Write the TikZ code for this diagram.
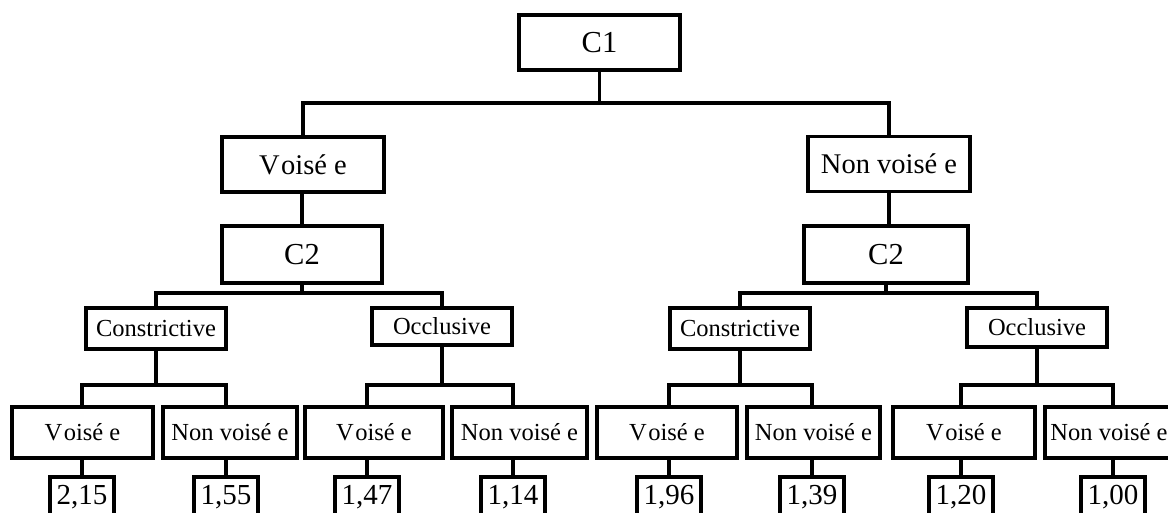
\documentclass[tikz,border=0pt]{standalone}
\usepackage{fontspec}
\setmainfont{Liberation Serif}
\begin{document}
\begin{tikzpicture}[x=1pt,y=-1pt,
  box/.style={draw=black, line width=3.3pt, fill=white, inner sep=0pt, anchor=center},
  bigbox/.style={box, font=\fontsize{28.5}{32}\selectfont, minimum height=55pt},
  midbox/.style={box, font=\fontsize{24.5}{28}\selectfont, minimum height=41pt, minimum width=140pt},
  leafbox/.style={box, font=\fontsize{24.5}{29}\selectfont, minimum height=51pt},
  numbox/.style={box, font=\fontsize{29}{32}\selectfont, minimum height=40pt, minimum width=64pt},
  link/.style={line width=3.3pt}
]
\useasboundingbox (0,0) rectangle (1168,513);

% bus levels
\coordinate (b1) at (0,103);
\coordinate (b2) at (0,293);
\coordinate (b3) at (0,385);

% level 0
\node[bigbox, minimum width=161pt, font=\fontsize{30.5}{34}\selectfont] (c1) at (599.5,42.5) {C1};

% level 1
\node[bigbox, minimum width=162pt] (va) at (303,164.5) {V\kern1.5pt oisé e};
\node[bigbox, minimum width=162pt] (nva) at (889,164) {Non voisé e};

% level 2
\node[bigbox, minimum width=160pt, minimum height=57pt, font=\fontsize{30.5}{34}\selectfont] (c2a) at (302,254.5) {C2};
\node[bigbox, minimum width=164pt, minimum height=57pt, font=\fontsize{30.5}{34}\selectfont] (c2b) at (886,254.5) {C2};

% level 3
\node[midbox] (cona) at (156,328.5) {Constrictive};
\node[midbox, minimum height=37pt] (occa) at (442,326.5) {Occlusive};
\node[midbox] (conb) at (740,328.5) {Constrictive};
\node[midbox, minimum height=39pt] (occb) at (1037,327.5) {Occlusive};

% level 4
\node[leafbox, minimum width=141pt] (l1) at (82.5,432.5) {V\kern1.5pt oisé e};
\node[leafbox, minimum width=134pt] (l2) at (230,432.5) {Non voisé e};
\node[leafbox, minimum width=138pt] (l3) at (374,432.5) {V\kern1.5pt oisé e};
\node[leafbox, minimum width=135pt] (l4) at (519.5,432.5) {Non voisé e};
\node[leafbox, minimum width=140pt] (l5) at (667,432.5) {V\kern1.5pt oisé e};
\node[leafbox, minimum width=133pt] (l6) at (813.5,432.5) {Non voisé e};
\node[leafbox, minimum width=142pt] (l7) at (964,432.5) {V\kern1.5pt oisé e};
\node[leafbox, minimum width=140pt] (l8) at (1115,432.5) {Non voisé e\hspace*{12pt}};

% level 5
\node[numbox] (n1) at (82,497) {2,15};
\node[numbox] (n2) at (226,497) {1,55};
\node[numbox] (n3) at (367,497) {1,47};
\node[numbox] (n4) at (513,497) {1,14};
\node[numbox] (n5) at (669,497) {1,96};
\node[numbox] (n6) at (812,497) {1,39};
\node[numbox] (n7) at (961,497) {1,20};
\node[numbox] (n8) at (1113,497) {1,00};

% connectors level 0 -> 1
\draw[link] (c1.south) -- (c1.south |- b1);
\draw[link] (va.north) |- (c1.south |- b1) -| (nva.north);

% level 1 -> 2
\draw[link] (va.south) -- (va.south -| c2a) -- (c2a.north);
\draw[link] (nva.south) -- (c2b.north -| nva);

% level 2 -> 3
\draw[link] (c2a.south) -- (c2a.south |- b2);
\draw[link] (cona.north) |- (c2a.south |- b2) -| (occa.north);
\draw[link] (c2b.south) -- (c2b.south |- b2);
\draw[link] (conb.north) |- (c2b.south |- b2) -| (occb.north);

% level 3 -> 4
\draw[link] (cona.south) -- (cona.south |- b3);
\draw[link] (l1.north -| n1) |- (cona.south |- b3) -| (l2.north -| n2);
\draw[link] (occa.south) -- (occa.south |- b3);
\draw[link] (l3.north -| n3) |- (occa.south |- b3) -| (l4.north -| n4);
\draw[link] (conb.south) -- (conb.south |- b3);
\draw[link] (l5.north -| n5) |- (conb.south |- b3) -| (l6.north -| n6);
\draw[link] (occb.south) -- (occb.south |- b3);
\draw[link] (l7.north -| n7) |- (occb.south |- b3) -| (l8.north -| n8);

% level 4 -> 5
\draw[link] (l1.south -| n1) -- (n1.north);
\draw[link] (l2.south -| n2) -- (n2.north);
\draw[link] (l3.south -| n3) -- (n3.north);
\draw[link] (l4.south -| n4) -- (n4.north);
\draw[link] (l5.south -| n5) -- (n5.north);
\draw[link] (l6.south -| n6) -- (n6.north);
\draw[link] (l7.south -| n7) -- (n7.north);
\draw[link] (l8.south -| n8) -- (n8.north);
\end{tikzpicture}
\end{document}
